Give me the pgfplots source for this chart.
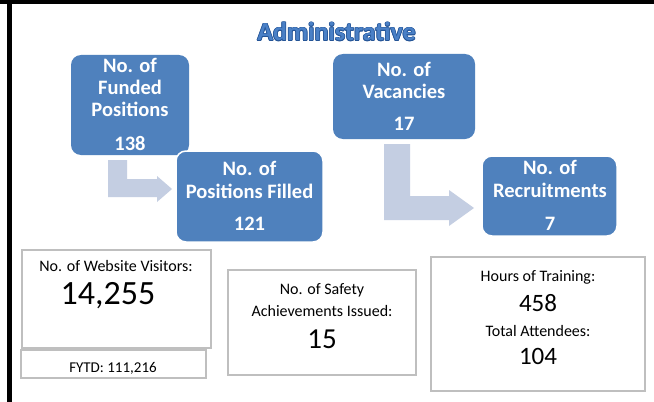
\documentclass[border=0pt]{standalone}
\usepackage{fontspec}
\setmainfont{Carlito}
\usepackage{pgfplots}
\usepackage{pgfplotstable}
\pgfplotsset{compat=1.18}

\definecolor{boxblue}{RGB}{79,129,189}
\definecolor{arrowgray}{RGB}{196,206,226}
\definecolor{framegray}{RGB}{191,191,191}
\definecolor{titledark}{RGB}{36,84,150}
\definecolor{titlefill}{RGB}{74,128,198}

% value, position of its baseline (px from top left)
\pgfplotstableread{
x y label
130 150 138
249.5 230.7 121
404 130 17
550 230 7
}\flowvals

\pgfplotstableread{
x y label
108 304.7 14,255
}\visitvals

\pgfplotstableread{
x y label
322 348 15
}\safetyvals

\pgfplotstableread{
x y label
538 311.3 458
538 364.7 104
}\trainvals

\newcommand{\bl}{\fontsize{20.5bp}{22bp}\selectfont\bfseries}
\newcommand{\sm}{\fontsize{16bp}{18bp}\selectfont}
\newcommand{\ttlfont}{\fontsize{26bp}{28bp}\selectfont\bfseries}
\newcommand{\ttl}[2]{\node[anchor=base, inner sep=0pt, text=titledark, font=\ttlfont]
    at ([xshift=#1bp, yshift=#2bp]axis cs:336.5,40.7) {Administrative};}

\begin{document}
\begin{tikzpicture}
\begin{axis}[
  width=654bp, height=402bp, scale only axis,
  xmin=0, xmax=654, ymin=0, ymax=402, y dir=reverse,
  hide axis, clip=false,
]
% frame
\fill[white] (axis cs:0,0) rectangle (axis cs:654,402);
\fill[black] (axis cs:0,0) rectangle (axis cs:654,4.5);
\fill[black] (axis cs:7,0) rectangle (axis cs:11.5,402);

% title
\ttl{-0.7}{0}\ttl{0.7}{0}\ttl{0}{-0.7}\ttl{0}{0.7}
\ttl{0.5}{0.5}\ttl{-0.5}{0.5}\ttl{0.5}{-0.5}\ttl{-0.5}{-0.5}
\node[anchor=base, inner sep=0pt, text=titlefill, font=\ttlfont]
  at (axis cs:336.5,40.7) {Administrative};

% left flow
\fill[boxblue, rounded corners=10bp] (axis cs:71,55) rectangle (axis cs:189,155);
\addplot[fill=arrowgray, draw=none] coordinates {
  (108,160) (127,160) (127,179) (157,179) (157,176) (172,189) (157,202) (157,197) (108,197)
} -- cycle;
\draw[fill=boxblue, rounded corners=10bp, draw=white, line width=1.5bp]
  (axis cs:176,151) rectangle (axis cs:323,242);

% right flow
\fill[boxblue, rounded corners=10bp] (axis cs:333,54) rectangle (axis cs:475,139);
\addplot[fill=arrowgray, draw=none] coordinates {
  (384,144) (410,144) (410,196) (449,196) (449,190) (474,208) (449,226) (449,220) (384,220)
} -- cycle;
\draw[fill=boxblue, rounded corners=10bp, draw=white, line width=1.5bp]
  (axis cs:482,156) rectangle (axis cs:617,236);

\begin{scope}[every node/.style={anchor=base, inner sep=0pt, text=white, font=\bl}]
\node at (axis cs:130,72.3) {No. of};
\node at (axis cs:130,94.5) {Funded};
\node at (axis cs:130,116.7) {Positions};
\node at (axis cs:249.5,175.7) {No. of};
\node at (axis cs:249.5,198.3) {Positions Filled};
\node at (axis cs:404,76) {No. of};
\node at (axis cs:404,98.7) {Vacancies};
\node at (axis cs:550,174) {No. of};
\node at (axis cs:550,197.3) {Recruitments};
\end{scope}

\addplot[only marks, mark=none, point meta=explicit symbolic, nodes near coords,
  nodes near coords style={anchor=base, inner sep=0pt, text=white, font=\bl}]
  table[meta=label] {\flowvals};

% bottom boxes
\draw[framegray, line width=1.2bp] (axis cs:22,250) rectangle (axis cs:211,348);
\draw[framegray, line width=1.2bp] (axis cs:21,350) rectangle (axis cs:206,378);
\draw[framegray, line width=1.2bp] (axis cs:228,270) rectangle (axis cs:416,375);
\draw[framegray, line width=1.2bp] (axis cs:431,257) rectangle (axis cs:645,391);

\begin{scope}[every node/.style={anchor=base, inner sep=0pt, text=black, font=\sm}]
\node at (axis cs:116,271) {No. of Website Visitors:};
\node[font=\fontsize{15bp}{17bp}\selectfont] at (axis cs:113,372.3) {FYTD: 111,216};
\node at (axis cs:322,294.7) {No. of Safety};
\node at (axis cs:322,316.3) {Achievements Issued:};
\node at (axis cs:538,281.3) {Hours of Training:};
\node at (axis cs:538,336.3) {Total Attendees:};
\end{scope}

\addplot[only marks, mark=none, point meta=explicit symbolic, nodes near coords,
  nodes near coords style={anchor=base, inner sep=0pt, text=black, font=\fontsize{34bp}{36bp}\selectfont}]
  table[meta=label] {\visitvals};
\addplot[only marks, mark=none, point meta=explicit symbolic, nodes near coords,
  nodes near coords style={anchor=base, inner sep=0pt, text=black, font=\fontsize{29bp}{31bp}\selectfont}]
  table[meta=label] {\safetyvals};
\addplot[only marks, mark=none, point meta=explicit symbolic, nodes near coords,
  nodes near coords style={anchor=base, inner sep=0pt, text=black, font=\fontsize{25bp}{27bp}\selectfont}]
  table[meta=label] {\trainvals};
\end{axis}
\end{tikzpicture}
\end{document}
